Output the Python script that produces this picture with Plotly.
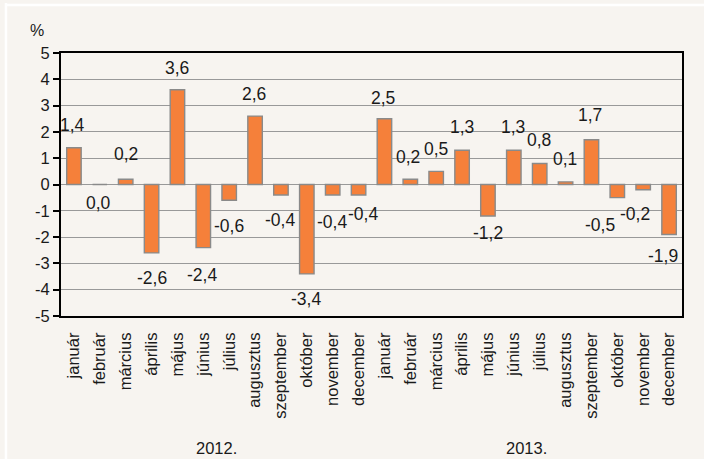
import plotly.graph_objects as go

months = ["január", "február", "március", "április", "május", "június",
          "július", "augusztus", "szeptember", "október", "november", "december"]
categories = months + months
years = ["2012.", "2013."]
values = [1.4, 0.0, 0.2, -2.6, 3.6, -2.4, -0.6, 2.6, -0.4, -3.4, -0.4, -0.4,
          2.5, 0.2, 0.5, 1.3, -1.2, 1.3, 0.8, 0.1, 1.7, -0.5, -0.2, -1.9]
y_ticks = [-5, -4, -3, -2, -1, 0, 1, 2, 3, 4, 5]

# label offsets (pixels) - styling only
label_dy = [23, -18, 25, -25, 22, -27, -26, 22, -25, -25, -27, -19,
            21, 22, 22, 23, -17, 23, 23, 23, 25, -27, -24, -22]
label_dx = [-1, -1, 0, 0, 0, -1, 0, -1, -1, -1, -1, 4,
            -1, -2, 0, 0, 0, -1, -1, -1, -1, -17, -8, -6]

FONT = "Liberation Sans, Arial, sans-serif"
BG = "#F7F4F0"
TXT = "#1a1a1a"

xs = list(range(len(values)))

fig = go.Figure()
fig.add_trace(go.Bar(
    x=xs, y=values,
    marker=dict(color="#F5803A", line=dict(color="#8A8A8A", width=1.4)),
    width=0.56,
    hoverinfo="skip",
))

annotations = []
for i, v in enumerate(values):
    annotations.append(dict(
        x=i, y=v, xref="x", yref="y",
        text=f"{v:.1f}".replace(".", ","),
        showarrow=False, xanchor="center", yanchor="middle",
        yshift=label_dy[i], xshift=label_dx[i],
        font=dict(family=FONT, size=17.5, color=TXT),
    ))

for k, yr in enumerate(years):
    annotations.append(dict(
        x=5.5 + 12 * k, y=-0.50, xref="x", yref="paper",
        text=yr, showarrow=False, xanchor="center", yanchor="middle",
        font=dict(family=FONT, size=16.5, color=TXT),
    ))

annotations.append(dict(
    x=-0.0386, y=1.087, xref="paper", yref="paper", text="%",
    showarrow=False, xanchor="center", yanchor="middle",
    font=dict(family=FONT, size=16, color=TXT),
))

shapes = [
    dict(type="line", xref="paper", yref="paper",
         x0=-0.0886, x1=-0.0886, y0=1.19, y1=-0.6, line=dict(color="white", width=2.5)),
    dict(type="line", xref="paper", yref="paper",
         x0=-0.0886, x1=1.1, y0=1.1825, y1=1.1825, line=dict(color="white", width=2.5)),
]

fig.update_layout(
    width=704, height=459,
    margin=dict(l=61, r=22, t=53, b=143),
    paper_bgcolor=BG, plot_bgcolor=BG,
    showlegend=False,
    bargap=0.44,
    annotations=annotations,
    shapes=shapes,
    font=dict(family=FONT, color=TXT),
)
fig.update_xaxes(
    range=[-0.5, len(values) - 0.5],
    tickmode="array", tickvals=xs, ticktext=categories,
    tickangle=-90, tickfont=dict(family=FONT, size=16.5, color=TXT),
    showgrid=False, zeroline=False,
    showline=True, linecolor="black", linewidth=2, mirror=True,
    ticks="", ticklabelstandoff=8,
)
fig.update_yaxes(
    range=[-5, 5], tickmode="array", tickvals=y_ticks,
    ticktext=[str(t) for t in y_ticks],
    tickfont=dict(family=FONT, size=16.5, color=TXT),
    showgrid=True, gridcolor="#999999", gridwidth=1,
    zeroline=False,
    showline=True, linecolor="black", linewidth=2, mirror=True,
    ticks="outside", ticklen=6, tickcolor="black", tickwidth=1.5,
)

fig.write_html("out.html",
               config={"displayModeBar": False},
               post_script="document.body.style.margin='0';document.body.style.background='%s';" % BG)
